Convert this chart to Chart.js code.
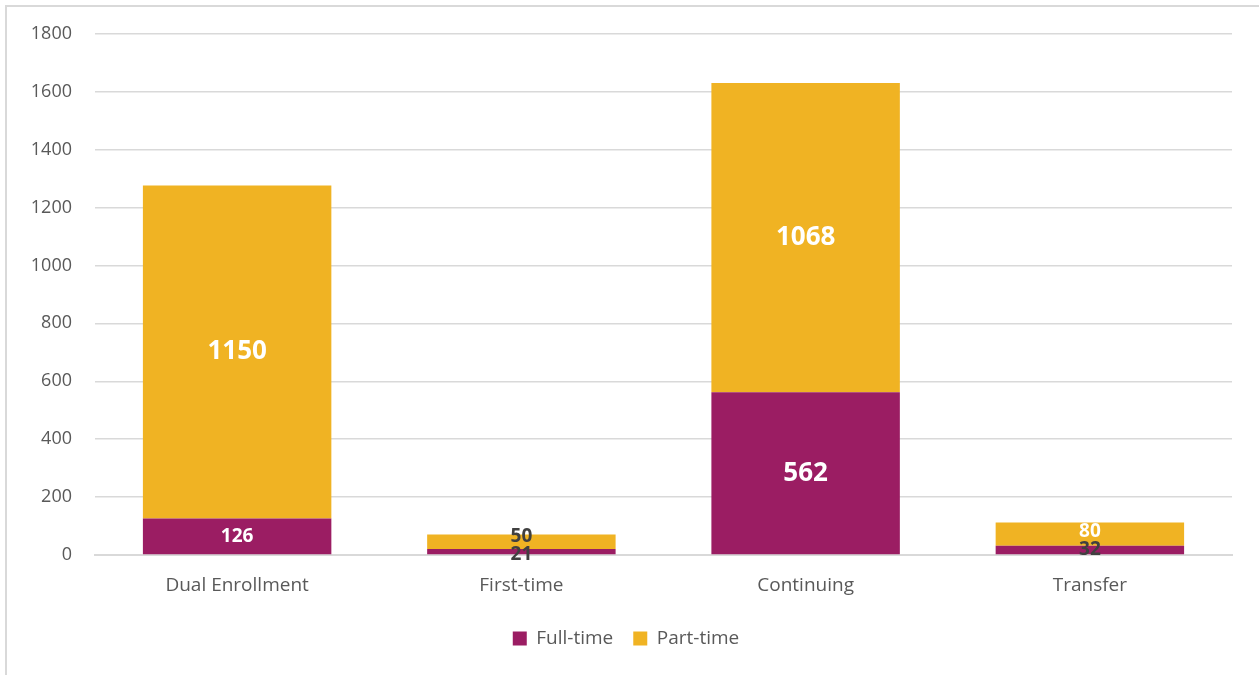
<!DOCTYPE html>
<html>
<head>
<meta charset="utf-8">
<script src="https://cdn.jsdelivr.net/npm/chart.js@4.4.0/dist/chart.umd.min.js"></script>
<style>
  html, body { margin: 0; padding: 0; background: #fff; }
  #frame { position: absolute; left: 5px; top: 5px; width: 1300px; height: 700px;
           border-left: 2px solid #d9d9d9; border-top: 2px solid #d9d9d9; }
  #wrap { position: absolute; left: 0; top: 0; width: 1259px; height: 675px; }
</style>
</head>
<body>
<div id="frame"></div>
<div id="wrap"><canvas id="chart" width="1259" height="675"></canvas></div>
<script>
var categories = ["Dual Enrollment", "First-time", "Continuing", "Transfer"];
var fullTime   = [126, 21, 562, 32];
var partTime   = [1150, 50, 1068, 80];
var yTicks     = [0, 200, 400, 600, 800, 1000, 1200, 1400, 1600, 1800];

// label styling per bar: big bars get large white text, tiny ones dark
function labelStyle(value) {
	if (value >= 500) return { size: 26, color: "#ffffff" };
	if (value >= 60)  return { size: 19, color: "#ffffff" };
	return { size: 19, color: "#404040" };
}

var barLabels = {
	id: "barLabels",
	afterDatasetsDraw: function (chart) {
		var ctx = chart.ctx;
		var m0 = chart.getDatasetMeta(0), m1 = chart.getDatasetMeta(1);
		ctx.save();
		ctx.textAlign = "center";
		ctx.textBaseline = "middle";
		m0.data.forEach(function (b0, i) {
			var b1 = m1.data[i];
			var y0 = (b0.y + b0.base) / 2, y1 = (b1.y + b1.base) / 2;
			// push overlapping labels apart like the spreadsheet does
			if (y0 - y1 < 18) {
				var mid = (y0 + y1) / 2 - 1;
				y0 = mid + 9; y1 = mid - 9;
			}
			[[fullTime[i], b0.x, y0], [partTime[i], b1.x, y1]].forEach(function (p) {
				var st = labelStyle(p[0]);
				ctx.font = "bold " + st.size + "px 'Open Sans', sans-serif";
				ctx.fillStyle = st.color;
				ctx.fillText(String(p[0]), p[1], p[2]);
			});
		});
		ctx.restore();
	}
};

var ctx = document.getElementById("chart");
var chart = new Chart(ctx, {
	type: "bar",
	data: {
		labels: categories,
		datasets: [
			{ label: "Full-time", data: fullTime, backgroundColor: "#9b1d63",
			  categoryPercentage: 1, barPercentage: 0.663 },
			{ label: "Part-time", data: partTime, backgroundColor: "#f0b323",
			  categoryPercentage: 1, barPercentage: 0.663 }
		]
	},
	options: {
		responsive: false,
		animation: false,
		layout: { padding: { left: 20, right: 27, top: 24, bottom: 17 } },
		plugins: {
			legend: {
				position: "bottom",
				labels: {
					color: "#595959",
					font: { family: "'Open Sans', sans-serif", size: 19 },
					boxWidth: 14, boxHeight: 14, padding: 20
				}
			},
			tooltip: { enabled: false }
		},
		scales: {
			x: {
				stacked: true,
				grid: { display: false, drawTicks: false },
				border: { color: "#d9d9d9", width: 2 },
				ticks: { color: "#595959", padding: 19,
				         font: { family: "'Open Sans', sans-serif", size: 19 } },
				afterFit: function (s) { s.height = 54; }
			},
			y: {
				stacked: true,
				min: 0, max: 1800,
				afterBuildTicks: function (s) { s.ticks = yTicks.map(function (v) { return { value: v }; }); },
				grid: { color: "#d9d9d9", lineWidth: 1.5, drawTicks: false },
				border: { display: false },
				ticks: { color: "#595959", padding: 23,
				         callback: function (v) { return String(v); },
				         font: { family: "'Open Sans', sans-serif", size: 18 } },
				afterFit: function (s) { s.width = 75; }
			}
		}
	},
	plugins: [barLabels]
});
</script>
</body>
</html>
